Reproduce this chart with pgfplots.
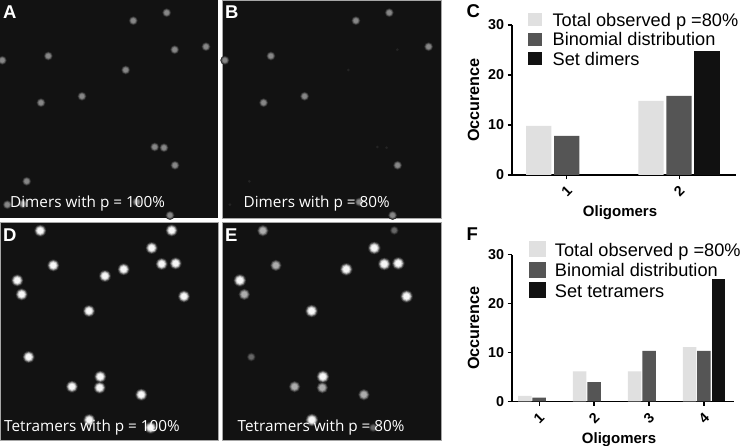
\documentclass[border=0pt]{standalone}
\usepackage{pgfplots}
\usepackage{pgfplotstable}
\pgfplotsset{compat=1.18}
\usepackage{fontspec}
\setmainfont{Liberation Sans}
\newfontfamily\pan{Open Sans}
\definecolor{bg}{HTML}{121212}
\definecolor{cl}{HTML}{E0E0E0}
\definecolor{cd}{HTML}{555555}
\definecolor{ck}{HTML}{111111}
\definecolor{gf}{gray}{.14}
\definecolor{a1}{gray}{.13}\definecolor{a2}{gray}{.22}\definecolor{a3}{gray}{.33}\definecolor{a4}{gray}{.43}\definecolor{a5}{gray}{.53}
\definecolor{w1}{gray}{.2}\definecolor{w2}{gray}{.4}\definecolor{w3}{gray}{.62}\definecolor{w4}{gray}{.82}\definecolor{w5}{gray}{.97}
\definecolor{m1}{gray}{.16}\definecolor{m2}{gray}{.28}\definecolor{m3}{gray}{.42}\definecolor{m4}{gray}{.56}\definecolor{m5}{gray}{.68}
\definecolor{d1}{gray}{.11}\definecolor{d2}{gray}{.17}\definecolor{d3}{gray}{.24}\definecolor{d4}{gray}{.32}\definecolor{d5}{gray}{.40}

% spot positions, image pixels from the panel's upper left corner
\pgfplotstableread{
x y
133.3 20.7
166.7 12.7
174.7 49.7
206.0 46.7
2.3 60.3
48.3 56.0
125.7 70.0
82.0 96.3
41.0 102.7
154.7 147.0
164.0 147.7
175.0 165.3
26.7 181.3
7.3 204.7
23 204
136.7 202.0
170.0 215.3
}\tabA
\pgfplotstableread{
x y
133.3 20.7
166.7 12.7
206.0 46.7
2.3 60.3
48.3 56.0
82.0 96.3
41.0 102.7
175.0 165.3
136.7 202.0
170.0 215.3
}\tabB
\pgfplotstableread{
x y
174.7 49.7
125.7 70.0
154.7 147.0
164.0 147.7
26.7 181.3
7.3 204.7
}\tabBf
\pgfplotstableread{
x y
40.3 8.3
171.7 8
151.7 25.6
53.3 43
161.7 41.6
175.7 41
123.7 46.9
105.0 53.6
17.3 58
21.7 72
184.0 74
89.0 88.6
28.7 134.6
100.3 154.3
99.7 165.3
72.0 164.3
141.3 172.3
89.3 197.6
150.7 205.3
}\tabD
\pgfplotstableread{
x y
151.7 25.6
161.7 41.6
175.7 41
123.7 46.9
17.3 58
184.0 74
89.0 88.6
100.3 154.3
89.3 197.6
}\tabEb
\pgfplotstableread{
x y
40.3 8.3
53.3 43
21.7 72
99.7 165.3
72.0 164.3
141.3 172.3
}\tabEm
\pgfplotstableread{
x y
171.7 8
28.7 134.6
150.7 205.3
}\tabEd

\newcommand\lay[3]{\addplot[only marks,mark=*,mark size=#3pt,mark options={draw=#2,fill=#2,line width=.2pt}] table {#1};}
\newcommand\spots[3]{% table, colour prefix, radius
 \pgfmathsetmacro\ra{#3*1.0}\pgfmathsetmacro\rb{#3*.88}\pgfmathsetmacro\rc{#3*.76}\pgfmathsetmacro\rd{#3*.64}\pgfmathsetmacro\re{#3*.48}
 \edef\tmp{\noexpand\lay{\noexpand#1}{#21}{\ra}\noexpand\lay{\noexpand#1}{#22}{\rb}\noexpand\lay{\noexpand#1}{#23}{\rc}\noexpand\lay{\noexpand#1}{#24}{\rd}\noexpand\lay{\noexpand#1}{#25}{\re}}\tmp}
\pgfplotsset{panel/.style={scale only axis,width=218.4pt,height=218pt,anchor=north west,
  xmin=0,xmax=218.4,ymin=0,ymax=218,y dir=reverse,ticks=none,
  axis background/.style={fill=bg}},
 chart/.style={scale only axis,anchor=south west,axis x line=bottom,axis y line=left,
  axis line style={-,line width=1.1pt,black},
  tick style={line width=1.1pt,black},tick align=outside,major tick length=4.5pt,
  ymin=0,ymax=30,ytick={0,10,20,30},xtick=data,
  /pgf/number format/assume math mode=true,
  tick label style={font=\fontsize{14.3}{15}\selectfont\bfseries},
  x tick label style={rotate=45,anchor=center,yshift=-8.5pt,xshift=-8.5pt},
  xtick pos=bottom,ytick pos=left,
  xlabel style={font=\fontsize{15}{16}\selectfont\bfseries,xshift=-4pt,yshift=0pt},
  ylabel style={font=\fontsize{16.2}{17}\selectfont\bfseries,yshift=2pt},
  xlabel={Oligomers},ylabel={Occurence},
  ybar,clip=false,
  legend cell align=left,
  legend style={draw=none,fill=none,inner sep=0pt,outer sep=0pt,anchor=north west,
   font=\fontsize{18.2}{19}\selectfont,
   nodes={inner sep=0pt,outer sep=0pt,text height=14pt,text depth=4pt}}}}
\begin{document}
\begin{tikzpicture}[x=1pt,y=1pt]
\path[use as bounding box,fill=white] (0,0) rectangle (741,-446);

\begin{axis}[panel,at={(0pt,0pt)},axis line style={draw=none}]
\spots{\tabA}{a}{4.4}
\end{axis}
\begin{axis}[panel,at={(222.6pt,0pt)},axis line style={gray!70,line width=.6pt}]
\lay{\tabBf}{gf}{1.3}
\spots{\tabB}{a}{4.4}
\end{axis}
\begin{axis}[panel,at={(0pt,-222.4pt)},axis line style={gray!70,line width=.6pt}]
\spots{\tabD}{w}{5.8}
\end{axis}
\begin{axis}[panel,at={(222.6pt,-222.4pt)},axis line style={gray!70,line width=.6pt}]
\spots{\tabEd}{d}{4.4}
\spots{\tabEm}{m}{5.6}
\spots{\tabEb}{w}{6.1}
\end{axis}

\begin{axis}[chart,at={(512pt,-175pt)},width=224pt,height=150pt,
  xmin=0.513,xmax=2.507,
  legend style={at={(0.071,1.085)},row sep=1.6pt},
  legend image code/.code={\fill[#1] (0pt,-5pt) rectangle (14pt,8pt);\path (24.7pt,0pt);}]
\addplot[fill=cl,draw=none,bar width=25.3pt,bar shift=-28pt] coordinates {(1,9.8) (2,14.8)};
\addplot[fill=cd,draw=none,bar width=25.3pt,bar shift=0pt] coordinates {(1,7.8) (2,15.8)};
\addplot[fill=ck,draw=none,bar width=25.3pt,bar shift=28pt] coordinates {(2,24.8)};
\legend{Total observed p =80\%,Binomial distribution,Set dimers}
\end{axis}

\begin{axis}[chart,at={(512pt,-401.3pt)},width=222pt,height=146.6pt,
  xmin=0.508,xmax=4.546,
  legend style={at={(0.075,1.093)},row sep=1.6pt},
  legend image code/.code={\fill[#1] (0pt,-6pt) rectangle (17.7pt,10pt);\path (26.3pt,0pt);}]
\addplot[fill=cl,draw=none,bar width=13.5pt,bar shift=-14.3pt] coordinates {(1,1.1) (2,6.1) (3,6.1) (4,11.1)};
\addplot[fill=cd,draw=none,bar width=13.5pt,bar shift=0pt] coordinates {(1,0.75) (2,3.9) (3,10.3) (4,10.3)};
\addplot[fill=ck,draw=none,bar width=13.5pt,bar shift=14.3pt] coordinates {(4,25.1)};
\legend{Total observed p =80\%,Binomial distribution,Set tetramers}
\end{axis}

\newcommand\ptx[3]{\node[white,anchor=base west,inner sep=0pt,font=\pan\fontsize{15.3}{16}\selectfont] at (#1,-#2) {#3};}
\newcommand\plet[4]{\node[#4,anchor=base west,inner sep=0pt,font=\fontsize{18.5}{19}\selectfont\bfseries] at (#1,-#2) {#3};}
\ptx{10}{208}{Dimers with p = 100\%}
\ptx{243.5}{208}{Dimers with p = 80\%}
\ptx{4}{431}{Tetramers with p = 100\%}
\ptx{237.5}{431}{Tetramers with p = 80\%}
\plet{3}{19}{A}{white}
\plet{225}{19}{B}{white}
\plet{3}{242}{D}{white}
\plet{225}{242}{E}{white}
\plet{466.5}{18}{C}{black}
\plet{466.5}{241}{F}{black}
\end{tikzpicture}
\end{document}
